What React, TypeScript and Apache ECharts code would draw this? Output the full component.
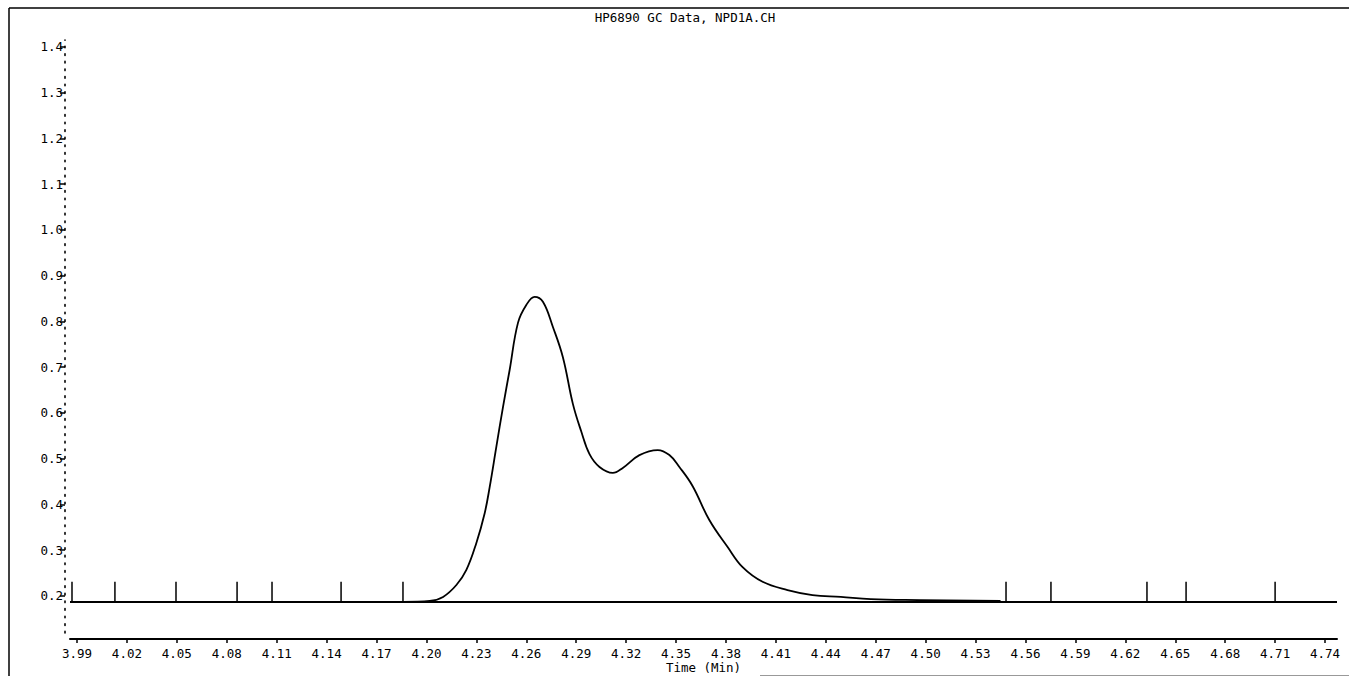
import React, { useEffect, useRef } from "react";
import * as echarts from "echarts";

const titleText = "HP6890 GC Data, NPD1A.CH";
const xAxisName = "Time (Min)";

const xTicks = [3.99, 4.02, 4.05, 4.08, 4.11, 4.14, 4.17, 4.2, 4.23, 4.26, 4.29, 4.32, 4.35, 4.38, 4.41, 4.44, 4.47, 4.5, 4.53, 4.56, 4.59, 4.62, 4.65, 4.68, 4.71, 4.74];
const yTicks = [0.2, 0.3, 0.4, 0.5, 0.6, 0.7, 0.8, 0.9, 1.0, 1.1, 1.2, 1.3, 1.4];

const xMin = 3.9858;
const xMax = 4.7472;
const yMin = 0.1191;
const yMax = 1.4153;

const baselineLevel = 0.187;
const markerTop = 0.231;
const markerTimes = [3.987, 4.0128, 4.0495, 4.0862, 4.1072, 4.1487, 4.1859, 4.5483, 4.5753, 4.633, 4.6565, 4.71];

const signalTimes = [4.186, 4.202, 4.21, 4.218, 4.224, 4.23, 4.235, 4.238, 4.242, 4.246, 4.25, 4.255, 4.26, 4.265, 4.27, 4.276, 4.282, 4.288, 4.293, 4.298, 4.304, 4.312, 4.318, 4.328, 4.339, 4.346, 4.352, 4.36, 4.37, 4.381, 4.39, 4.402, 4.417, 4.432, 4.449, 4.467, 4.497, 4.545];
const signalValues = [0.187, 0.189, 0.198, 0.224, 0.257, 0.316, 0.381, 0.438, 0.526, 0.613, 0.694, 0.797, 0.836, 0.854, 0.843, 0.788, 0.722, 0.62, 0.56, 0.51, 0.482, 0.469, 0.48, 0.508, 0.519, 0.508, 0.482, 0.44, 0.366, 0.307, 0.263, 0.231, 0.213, 0.202, 0.198, 0.193, 0.191, 0.189];

const FONT = "DejaVu Sans Mono";
const FS = 12.5;

export default function App() {
  const ref = useRef<HTMLDivElement>(null);
  useEffect(() => {
    if (!ref.current) return;
    const chart = echarts.init(ref.current, null, { renderer: "svg" });
    const signal = signalTimes.map((t, i) => [t, signalValues[i]]);
    const markers = markerTimes.map((t) => [t, baselineLevel, markerTop]);
    chart.setOption({
      animation: false,
      backgroundColor: "#ffffff",
      title: {
        text: titleText,
        left: 680,
        top: 6,
        textAlign: "center",
        textStyle: { fontFamily: FONT, fontSize: FS, fontWeight: "normal", color: "#000" },
      },
      grid: { left: 70, right: 12, top: 40, bottom: 43, containLabel: false, outerBoundsMode: "none" },
      xAxis: {
        type: "value",
        min: xMin,
        max: xMax,
        offset: 6,
        name: xAxisName,
        nameLocation: "middle",
        nameGap: 22,
        nameMoveOverlap: false,
        nameTextStyle: { fontFamily: FONT, fontSize: FS, color: "#000", lineHeight: 12 },
        splitLine: { show: false },
        axisLine: { show: true, onZero: false, lineStyle: { color: "#000", width: 2 } },
        axisTick: { show: true, customValues: xTicks, length: 4, lineStyle: { color: "#000", width: 1.5 } },
        axisLabel: {
          customValues: xTicks,
          margin: 8,
          fontFamily: FONT,
          fontSize: FS,
          color: "#000",
          formatter: (v: number) => v.toFixed(2),
        },
      },
      yAxis: {
        type: "value",
        min: yMin,
        max: yMax,
        offset: 5,
        splitLine: { show: false },
        axisLine: { show: true, onZero: false, lineStyle: { color: "#000", width: 1.6, type: [1.6, 6] } },
        axisTick: { show: true, customValues: yTicks, length: 5, lineStyle: { color: "#000", width: 1.5 } },
        axisLabel: {
          customValues: yTicks,
          margin: 2,
          fontFamily: FONT,
          fontSize: FS,
          color: "#000",
          formatter: (v: number) => v.toFixed(1),
        },
      },
      series: [
        {
          type: "line",
          data: [[xMin, baselineLevel], [xMax, baselineLevel]],
          showSymbol: false,
          lineStyle: { color: "#000", width: 2 },
          z: 2,
        },
        {
          type: "custom",
          data: markers,
          renderItem: (params: any, api: any) => {
            const p1 = api.coord([api.value(0), api.value(1)]);
            const p2 = api.coord([api.value(0), api.value(2)]);
            return {
              type: "line",
              shape: { x1: p1[0], y1: p1[1], x2: p2[0], y2: p2[1] },
              style: { stroke: "#000", lineWidth: 1.5 },
            };
          },
          z: 3,
        },
        {
          type: "line",
          data: signal,
          smooth: 0.4,
          showSymbol: false,
          lineStyle: { color: "#000", width: 1.8 },
          z: 4,
        },
      ],
      graphic: [
        { type: "line", shape: { x1: 9, y1: 8, x2: 1349, y2: 8 }, style: { stroke: "#000", lineWidth: 1.5 } },
        { type: "line", shape: { x1: 9, y1: 8, x2: 9, y2: 676 }, style: { stroke: "#000", lineWidth: 1.5 } },
        { type: "line", shape: { x1: 760, y1: 675.5, x2: 1349, y2: 675.5 }, style: { stroke: "#999", lineWidth: 1 } },
      ],
    });
    return () => chart.dispose();
  }, []);
  return (
    <div
      ref={ref}
      style={{ position: "absolute", left: 0, top: 0, width: 1349, height: 676 }}
    />
  );
}
